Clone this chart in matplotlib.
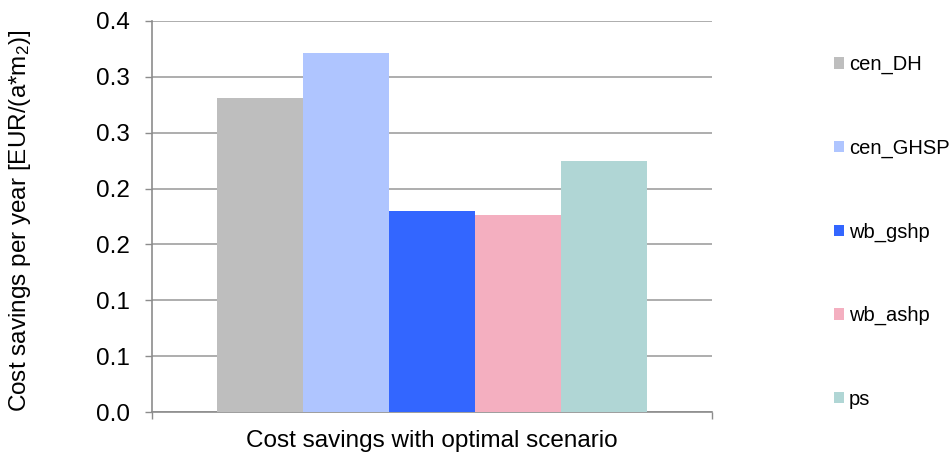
import matplotlib
matplotlib.use("Agg")
import matplotlib.pyplot as plt
from matplotlib.ticker import FixedLocator

series = ["cen_DH", "cen_GHSP", "wb_gshp", "wb_ashp", "ps"]
values = [0.281, 0.321, 0.180, 0.176, 0.225]
colors = ["#BEBEBE", "#AFC5FF", "#3366FF", "#F4AFC0", "#B0D6D5"]
category = "Cost savings with optimal scenario"
yticks = [0.0, 0.05, 0.10, 0.15, 0.20, 0.25, 0.30, 0.35]
ytick_labels = ["0.0", "0.1", "0.1", "0.2", "0.2", "0.3", "0.3", "0.4"]

plt.rcParams['font.family'] = ['Liberation Sans', 'DejaVu Sans']
plt.rcParams['mathtext.fontset'] = 'custom'
plt.rcParams['mathtext.rm'] = 'Liberation Sans'
plt.rcParams['mathtext.it'] = 'Liberation Sans'
plt.rcParams['mathtext.default'] = 'regular'

fig = plt.figure(figsize=(9.53, 4.54), dpi=100)
ax = fig.add_axes([0.160, 0.0925, 0.587, 0.8615])

n = len(series)
w = 1.0 / (n + 1.5)
handles = []
for i, (s, v, c) in enumerate(zip(series, values, colors)):
    x = (i - (n - 1) / 2) * w
    h = ax.bar(x, v, width=w, color=c, label=s, zorder=3, linewidth=0)
    handles.append(h)

ax.set_xlim(-0.5, 0.5)
ax.set_ylim(0, 0.35)
ax.yaxis.set_major_locator(FixedLocator(yticks))
ax.set_yticklabels(ytick_labels)
ax.set_xticks([-0.5, 0.5])
ax.set_xticklabels(["", ""])
ax.tick_params(axis='both', direction='out', length=5, width=1, color='#8C8C8C',
               labelsize=17.5, labelcolor='black')
ax.tick_params(axis='y', pad=11)
ax.yaxis.grid(True, color='#A0A0A0', linewidth=1.2, zorder=0)
for sp in ['top', 'right']:
    ax.spines[sp].set_visible(False)
for sp in ['left', 'bottom']:
    ax.spines[sp].set_color('#8C8C8C')
    ax.spines[sp].set_linewidth(1.2)

ax.set_xlabel(category, fontsize=17.5)
ax.xaxis.set_label_coords(0.5, -0.045)
ax.set_ylabel("Cost savings per year [EUR/(a*m$_2$)]", fontsize=17.5)
ax.yaxis.set_label_coords(-0.213, 0.49)

leg = fig.legend(handles=handles, labels=series, loc='upper left',
                 bbox_to_anchor=(834 / 953, 1 - 55 / 454), frameon=False,
                 fontsize=14.5, handlelength=0.5, handleheight=0.5,
                 handletextpad=0.25, labelspacing=3.2, borderpad=0, borderaxespad=0)

fig.savefig("out.png", dpi=100)
